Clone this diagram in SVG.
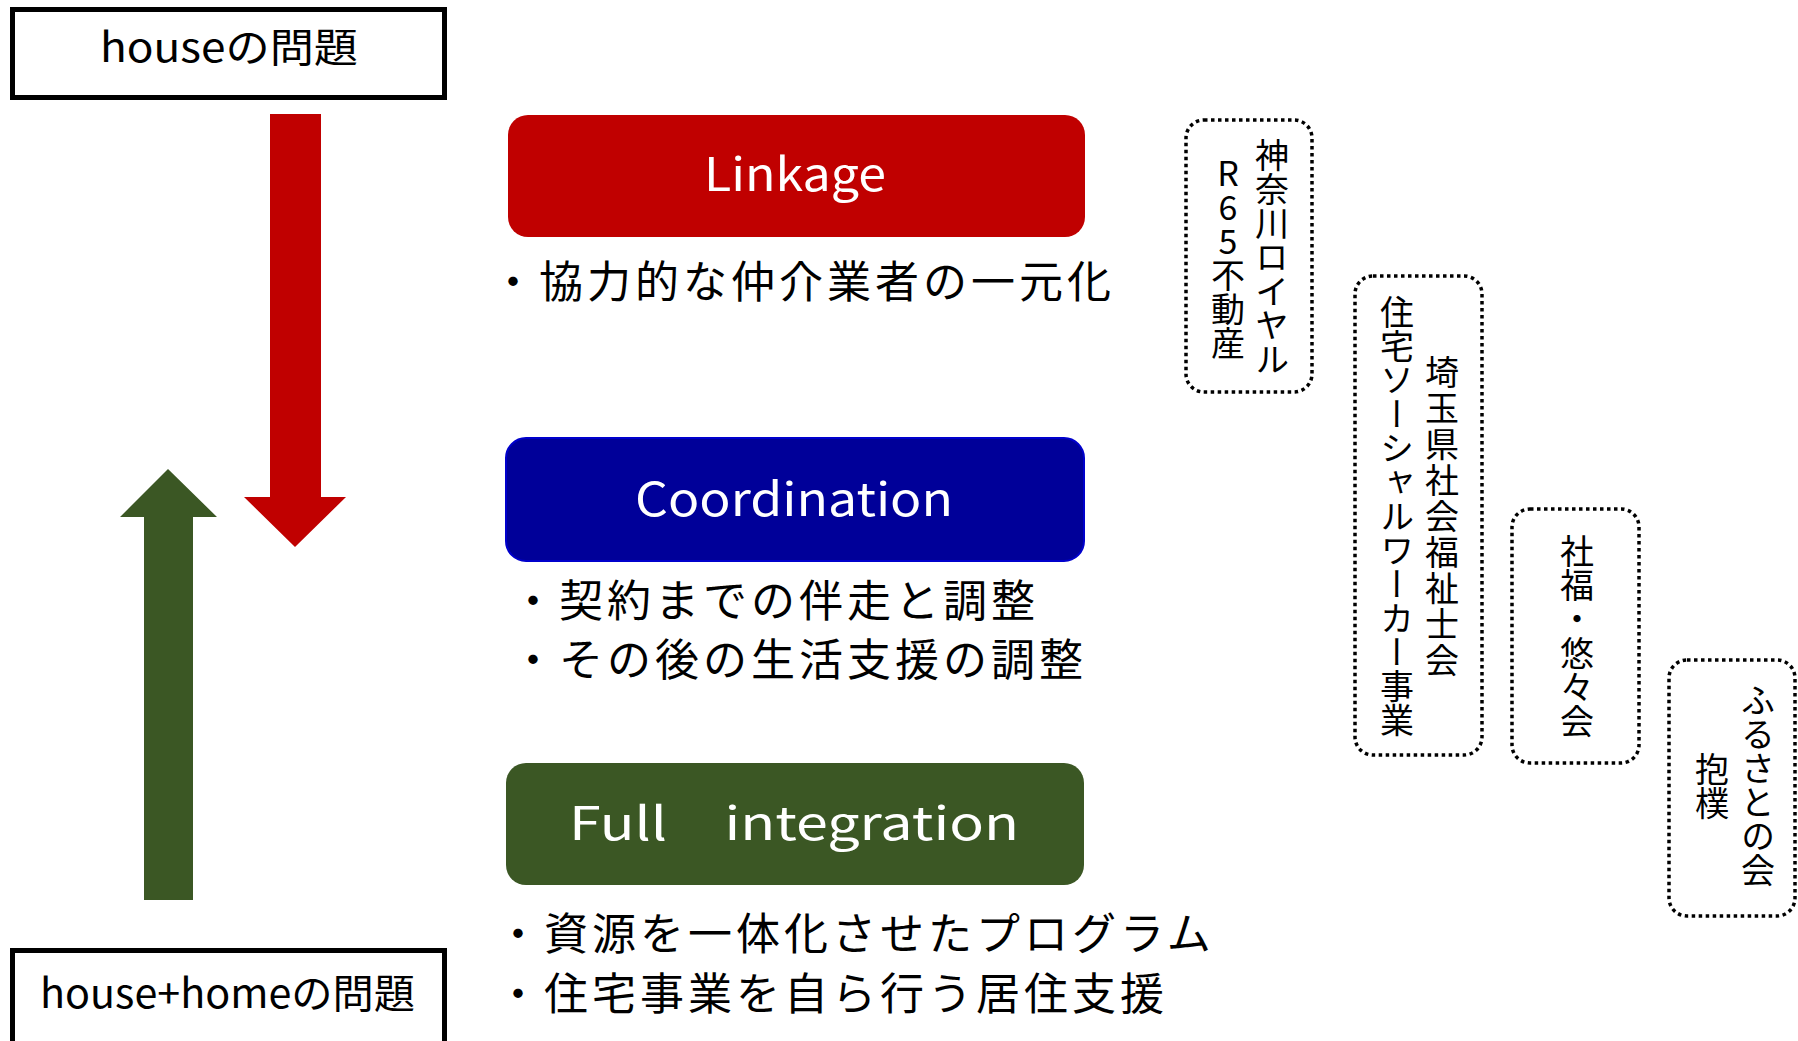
<svg xmlns="http://www.w3.org/2000/svg" width="1798" height="1041" viewBox="0 0 1798 1041">
<style>
.title{fill:#fff;stroke:#000;stroke-width:5}
.tt{font-family:"Noto Sans CJK JP","Noto Sans",sans-serif;font-size:40px;fill:#000}
.lbl{font-family:"Noto Sans CJK JP","Noto Sans",sans-serif;font-size:46px;fill:#fff;text-anchor:middle}
.bul{font-family:"Noto Sans CJK JP","Noto Sans",sans-serif;font-size:44px;fill:#000;letter-spacing:4px}
.dot{fill:#fff;stroke:#000;stroke-width:3.5;stroke-dasharray:3.5 3.5}
.vt{font-family:"Noto Sans CJK JP",sans-serif;font-size:34px;fill:#000;writing-mode:vertical-rl;text-orientation:upright;text-anchor:middle}
</style>
<rect width="1798" height="1041" fill="#fff"/>
<g id="connectors">
<polygon points="270,114 321,114 321,497 346,497 295,547 244,497 270,497" fill="#C00000"/>
<polygon points="168,469 217,517 193,517 193,900 144,900 144,517 120,517" fill="#3B5724"/>
</g>
<g id="house">
<rect class="title" x="12.5" y="9.5" width="432" height="88"/>
<text class="tt" x="100" y="62" textLength="258" lengthAdjust="spacingAndGlyphs">houseの問題</text>
</g>
<g id="househome">
<rect class="title" x="12.5" y="950.5" width="432" height="100"/>
<text class="tt" x="40" y="1008" textLength="375" lengthAdjust="spacingAndGlyphs">house+homeの問題</text>
</g>
<g id="linkage">
<rect x="508" y="115" width="577" height="122" rx="20" fill="#C00000"/>
<text class="lbl" x="795" y="191" textLength="182" lengthAdjust="spacingAndGlyphs">Linkage</text>
<text class="bul" x="491" y="298">・協力的な仲介業者の一元化</text>
</g>
<g id="coordination">
<rect x="506" y="438" width="578" height="123" rx="20" fill="#000099" stroke="#0000CC" stroke-width="2"/>
<text class="lbl" x="794" y="516" textLength="318" lengthAdjust="spacingAndGlyphs">Coordination</text>
<text class="bul" x="511" y="617">・契約までの伴走と調整</text>
<text class="bul" x="511" y="676">・その後の生活支援の調整</text>
</g>
<g id="full">
<rect x="506" y="763" width="578" height="122" rx="20" fill="#3B5724"/>
<text class="lbl" x="794" y="840" textLength="450" lengthAdjust="spacingAndGlyphs">Full　integration</text>
<text class="bul" x="496" y="950">・資源を一体化させたプログラム</text>
<text class="bul" x="496" y="1010">・住宅事業を自ら行う居住支援</text>
</g>
<g id="kanagawa">
<rect class="dot" x="1186" y="120" width="126" height="272" rx="18"/>
<text class="vt" x="1272" y="257">神奈川ロイヤル</text>
<text class="vt" x="1228" y="258">R65不動産</text>
</g>
<g id="saitama">
<rect class="dot" x="1355" y="276" width="127" height="479" rx="18"/>
<text class="vt" x="1442" y="517" style="letter-spacing:2px">埼玉県社会福祉士会</text>
<text class="vt" x="1397" y="516">住宅ソーシャルワーカー事業</text>
</g>
<g id="yuyukai">
<rect class="dot" x="1512" y="509" width="127" height="254" rx="18"/>
<text class="vt" x="1577" y="636">社福・悠々会</text>
</g>
<g id="furusato">
<rect class="dot" x="1669" y="660" width="126" height="256" rx="18"/>
<text class="vt" x="1758" y="785">ふるさとの会</text>
<text class="vt" x="1712" y="786">抱樸</text>
</g>
</svg>
